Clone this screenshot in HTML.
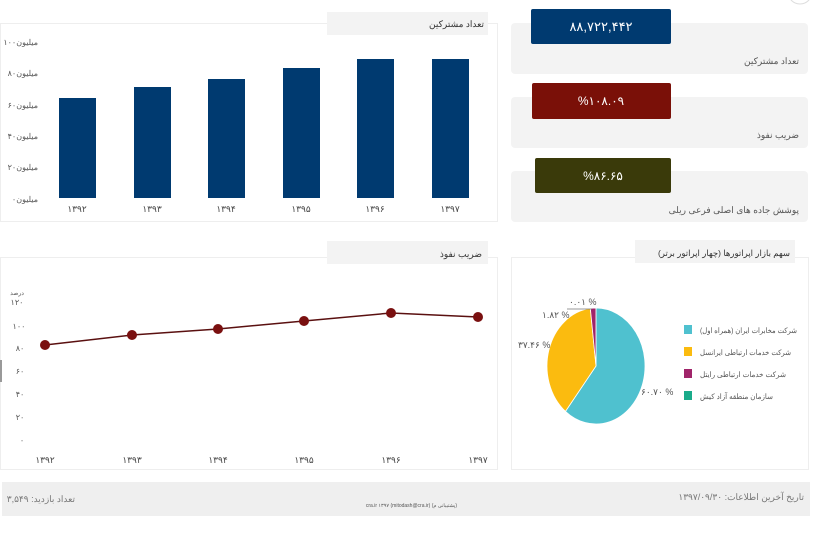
<!DOCTYPE html>
<html><head><meta charset="utf-8"><style>
body{margin:0;width:816px;height:534px;background:#fff;overflow:hidden;position:relative;font-family:"Liberation Sans","Noto Sans CJK SC",sans-serif;}
.a{position:absolute}
</style></head><body>
<svg class="a" style="left:0;top:0" width="816" height="534" font-family="Liberation Sans, Noto Sans CJK SC, sans-serif">
<!-- bar panel -->
<rect x="0.5" y="23.5" width="497" height="198" fill="#fff" stroke="#eee"/>
<rect x="327" y="12" width="161" height="23" fill="#f3f3f3"/>
<text x="484" y="27" font-size="9" fill="#333" text-anchor="end">تعداد مشترکین</text>
<g font-size="8" fill="#555" text-anchor="end">
<text x="38" y="45">میلیون۱۰۰</text><text x="38" y="76">میلیون۸۰</text><text x="38" y="108">میلیون۶۰</text>
<text x="38" y="139">میلیون۴۰</text><text x="38" y="170">میلیون۲۰</text><text x="38" y="202">میلیون۰</text>
</g>
<g fill="#003a70">
<rect x="59" y="98" width="37" height="100"/><rect x="134" y="87" width="37" height="111"/>
<rect x="208" y="79" width="37" height="119"/><rect x="283" y="68" width="37" height="130"/>
<rect x="357" y="59" width="37" height="139"/><rect x="432" y="59" width="37" height="139"/>
</g>
<g font-size="9" fill="#444" text-anchor="middle">
<text x="77" y="212">۱۳۹۲</text><text x="152" y="212">۱۳۹۳</text><text x="226" y="212">۱۳۹۴</text>
<text x="301" y="212">۱۳۹۵</text><text x="375" y="212">۱۳۹۶</text><text x="450" y="212">۱۳۹۷</text>
</g>
<!-- cards -->
<rect x="511" y="23" width="297" height="51" rx="4" fill="#f3f3f3"/>
<rect x="531" y="9" width="140" height="35" rx="2" fill="#003a70"/>
<text x="601" y="31" font-size="13" fill="#fff" text-anchor="middle">۸۸,۷۲۲,۴۴۲</text>
<text x="799" y="64" font-size="9" fill="#555" text-anchor="end">تعداد مشترکین</text>
<rect x="511" y="97" width="297" height="51" rx="4" fill="#f3f3f3"/>
<rect x="532" y="83" width="139" height="36" rx="2" fill="#7a1008"/>
<text x="601" y="105" font-size="12" fill="#fff" text-anchor="middle">%۱۰۸.۰۹</text>
<text x="799" y="138" font-size="9" fill="#555" text-anchor="end">ضریب نفوذ</text>
<rect x="511" y="171" width="297" height="51" rx="4" fill="#f3f3f3"/>
<rect x="535" y="158" width="136" height="35" rx="2" fill="#3a3a0a"/>
<text x="603" y="180" font-size="12" fill="#fff" text-anchor="middle">%۸۶.۶۵</text>
<text x="799" y="213" font-size="9" fill="#555" text-anchor="end">پوشش جاده های اصلی فرعی ریلی</text>
<circle cx="800" cy="-8" r="12" fill="#fff" stroke="#ddd"/>
<!-- line panel -->
<rect x="0.5" y="257.5" width="497" height="212" fill="#fff" stroke="#eee"/>
<rect x="327" y="241" width="161" height="23" fill="#f3f3f3"/>
<text x="482" y="257" font-size="9" fill="#333" text-anchor="end">ضریب نفوذ</text>
<g font-size="8" fill="#555" text-anchor="middle">
<text x="17" y="295" font-size="6">درصد</text>
<text x="17" y="305">۱۲۰</text><text x="19" y="329">۱۰۰</text><text x="20" y="351">۸۰</text>
<text x="20" y="374">۶۰</text><text x="20" y="397">۴۰</text><text x="20" y="420">۲۰</text><text x="22" y="443">۰</text>
</g>
<rect x="0" y="360" width="2" height="22" fill="#999"/>
<polyline points="45,345 132,335 218,329 304,321 391,313 478,317" fill="none" stroke="#5a1010" stroke-width="1.5"/>
<g fill="#7a1010">
<circle cx="45" cy="345" r="5"/><circle cx="132" cy="335" r="5"/><circle cx="218" cy="329" r="5"/>
<circle cx="304" cy="321" r="5"/><circle cx="391" cy="313" r="5"/><circle cx="478" cy="317" r="5"/>
</g>
<g font-size="9" fill="#444" text-anchor="middle">
<text x="45" y="463">۱۳۹۲</text><text x="132" y="463">۱۳۹۳</text><text x="218" y="463">۱۳۹۴</text>
<text x="304" y="463">۱۳۹۵</text><text x="391" y="463">۱۳۹۶</text><text x="478" y="463">۱۳۹۷</text>
</g>
<!-- pie panel -->
<rect x="511.5" y="257.5" width="297" height="212" fill="#fff" stroke="#eee"/>
<rect x="635" y="240" width="160" height="23" fill="#f3f3f3"/>
<text x="790" y="256" font-size="8.5" fill="#333" text-anchor="end">سهم بازار اپراتورها (چهار اپراتور برتر)</text>
<g transform="translate(596,366) scale(49,58)">
<path d="M0,0 L0,-1 A1,1 0 1 1 -0.6228,0.7824 Z" fill="#4fc1cf" stroke="#fff" stroke-width="0.8" vector-effect="non-scaling-stroke"/>
<path d="M0,0 L-0.6228,0.7824 A1,1 0 0 1 -0.1153,-0.9933 Z" fill="#fbbb0f" stroke="#fff" stroke-width="0.8" vector-effect="non-scaling-stroke"/>
<path d="M0,0 L-0.1153,-0.9933 A1,1 0 0 1 -0.0007,-1 Z" fill="#a0246a" stroke="#fff" stroke-width="0.8" vector-effect="non-scaling-stroke"/>
</g>
<g font-size="9" fill="#555">
<text x="641" y="395">۶۰.۷۰ %</text><text x="518" y="348">۳۷.۴۶ %</text>
<text x="542" y="318">۱.۸۲ %</text><text x="569" y="305">۰.۰۱ %</text>
</g>
<line x1="567" y1="309" x2="592" y2="309" stroke="#777" stroke-width="0.7"/>
<rect x="684" y="325" width="8" height="9" fill="#4fc1cf"/>
<rect x="684" y="347" width="8" height="9" fill="#fbbb0f"/>
<rect x="684" y="369" width="8" height="9" fill="#a0246a"/>
<rect x="684" y="391" width="8" height="9" fill="#1aab8a"/>
<g font-size="7.5" fill="#555">
<text x="700" y="333" textLength="97" lengthAdjust="spacingAndGlyphs">شرکت مخابرات ایران (همراه اول)</text>
<text x="700" y="355" textLength="91" lengthAdjust="spacingAndGlyphs">شرکت خدمات ارتباطی ایرانسل</text>
<text x="700" y="377" textLength="86" lengthAdjust="spacingAndGlyphs">شرکت خدمات ارتباطی رایتل</text>
<text x="700" y="399" textLength="73" lengthAdjust="spacingAndGlyphs">سازمان منطقه آزاد کیش</text>
</g>
<!-- footer -->
<rect x="2" y="482" width="808" height="34" fill="#efefef"/>
<text x="75" y="502" font-size="9" fill="#777" text-anchor="end">تعداد بازدید: ۳,۵۴۹</text>
<text x="457" y="507" font-size="5" fill="#555" text-anchor="end">cra.ir ۱۳۹۷ (mitodash@cra.ir) (پشتیبانی م)</text>
<text x="804" y="500" font-size="9" fill="#777" text-anchor="end">تاریخ آخرین اطلاعات: ۱۳۹۷/۰۹/۳۰</text>
</svg>
</body></html>
